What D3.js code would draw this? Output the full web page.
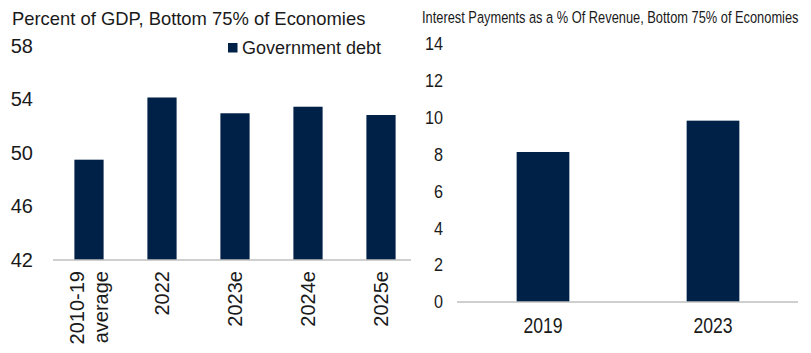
<!DOCTYPE html>
<html>
<head>
<meta charset="utf-8">
<script src="https://cdn.jsdelivr.net/npm/d3@7"></script>
<style>
  body { margin: 0; background: #fff; }
  svg { display: block; }
</style>
</head>
<body>
<div id="chart"></div>
<script>
// ---- data ----
const debtCategories = ["2010-19|average", "2022", "2023e", "2024e", "2025e"];
const debtValues = [49.5, 54.15, 52.97, 53.46, 52.84];
const debtTicks = [42, 46, 50, 54, 58];

const interestCategories = ["2019", "2023"];
const interestValues = [8.14, 9.84];
const interestTicks = [0, 2, 4, 6, 8, 10, 12, 14];

const barColor = "#002147";
const axisColor = "#bfbfbf";
const textColor = "#1a1a1a";
const sans = "'Liberation Sans', Arial, sans-serif";

const svg = d3.select("#chart").append("svg")
  .attr("width", 811)
  .attr("height", 353);

// squeezed text (right panel uses a condensed face)
function narrowText(x, y, txt, size, sx, anchor) {
  const g = svg.append("g")
    .attr("transform", `translate(${x},${y}) scale(${sx},1)`);
  return g.append("text")
    .attr("text-anchor", anchor)
    .style("font-family", sans)
    .style("font-size", size + "px")
    .style("fill", textColor)
    .text(txt);
}

// =========================
// LEFT: GOVERNMENT DEBT
// =========================
const x1 = d3.scaleBand()
  .domain(debtCategories)
  .range([52.5, 417.5])
  .paddingInner(0.6)
  .paddingOuter(0.3);

const y1 = d3.scaleLinear()
  .domain([42, 58])
  .range([260, 46]);

svg.append("text")
  .attr("x", 12)
  .attr("y", 25)
  .style("font-family", sans)
  .style("font-size", "18.4px")
  .style("fill", textColor)
  .text("Percent of GDP, Bottom 75% of Economies");

// y tick labels
const yAxis1 = svg.append("g")
  .attr("transform", "translate(43,0)")
  .call(d3.axisLeft(y1).tickValues(debtTicks).tickSize(0).tickPadding(10));
yAxis1.select(".domain").remove();
yAxis1.selectAll("text")
  .style("font-family", sans)
  .style("font-size", "20px")
  .style("fill", textColor);

svg.selectAll(".debt-bar")
  .data(debtValues)
  .enter()
  .append("rect")
  .attr("class", "debt-bar")
  .attr("x", (d, i) => x1(debtCategories[i]))
  .attr("y", d => y1(d))
  .attr("width", x1.bandwidth())
  .attr("height", d => y1(42) - y1(d))
  .attr("fill", barColor);

svg.append("line")
  .attr("x1", 53).attr("x2", 411)
  .attr("y1", y1(42)).attr("y2", y1(42))
  .attr("stroke", axisColor)
  .attr("stroke-width", 1.5);

// rotated category labels
debtCategories.forEach(c => {
  const lines = c.split("|");
  const cx = x1(c) + x1.bandwidth() / 2;
  const g = svg.append("g")
    .attr("transform", `translate(${cx},271) rotate(-90)`);
  lines.forEach((ln, j) => {
    g.append("text")
      .attr("x", 0)
      .attr("y", (j - (lines.length - 1) / 2) * 24)
      .attr("dy", "0.35em")
      .attr("text-anchor", "end")
      .style("font-family", sans)
      .style("font-size", "20px")
      .style("fill", textColor)
      .text(ln);
  });
});

// legend
svg.append("rect")
  .attr("x", 228)
  .attr("y", 43)
  .attr("width", 9.5)
  .attr("height", 9.5)
  .attr("fill", barColor);

svg.append("text")
  .attr("x", 242)
  .attr("y", 54)
  .style("font-family", sans)
  .style("font-size", "18px")
  .style("fill", textColor)
  .text("Government debt");

// =========================
// RIGHT: INTEREST PAYMENTS
// =========================
const x2 = d3.scaleBand()
  .domain(interestCategories)
  .range([458, 798])
  .paddingInner(0.69)
  .paddingOuter(0.345);

const y2 = d3.scaleLinear()
  .domain([0, 14])
  .range([302, 44]);

// title, squeezed to fit its width
const title2 = narrowText(422, 23, "Interest Payments as a % Of Revenue, Bottom 75% of Economies", 16.5, 1, "start");
const tw = title2.node().getComputedTextLength();
d3.select(title2.node().parentNode)
  .attr("transform", `translate(422,23) scale(${377 / tw},1)`);

// y tick labels
interestTicks.forEach(t => {
  narrowText(443, y2(t), t, 18, 0.9, "end").attr("dy", "0.35em");
});

svg.selectAll(".int-bar")
  .data(interestValues)
  .enter()
  .append("rect")
  .attr("class", "int-bar")
  .attr("x", (d, i) => x2(interestCategories[i]))
  .attr("y", d => y2(d))
  .attr("width", x2.bandwidth())
  .attr("height", d => y2(0) - y2(d))
  .attr("fill", barColor);

svg.append("line")
  .attr("x1", 457).attr("x2", 798)
  .attr("y1", y2(0)).attr("y2", y2(0))
  .attr("stroke", axisColor)
  .attr("stroke-width", 1.5);

// x labels
interestCategories.forEach(c => {
  narrowText(x2(c) + x2.bandwidth() / 2, 333, c, 22, 0.8, "middle");
});
</script>
</body>
</html>
